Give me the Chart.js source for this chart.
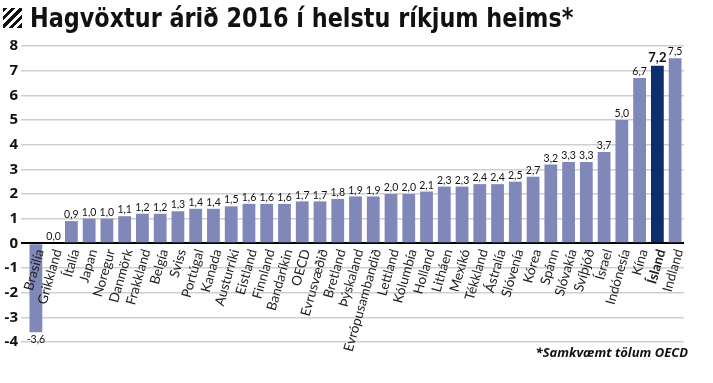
<!DOCTYPE html>
<html><head><meta charset="utf-8">
<script src="https://cdn.jsdelivr.net/npm/chart.js@4/dist/chart.umd.min.js"></script>
<style>
html,body{margin:0;padding:0;background:#fff;width:713px;height:383px;overflow:hidden}
#wrap{position:relative;width:713px;height:383px}
#title{position:absolute;left:30px;top:2px;font-family:"Liberation Sans Narrow","DejaVu Sans Condensed",sans-serif;font-weight:bold;font-size:27px;color:#111;white-space:nowrap;line-height:32px;transform:scaleX(0.92);transform-origin:0 0}
#icon{position:absolute;left:3px;top:8px;width:19px;height:20px;background:repeating-linear-gradient(135deg,#111 0 3px,#fff 3px 6px)}
#note{position:absolute;right:25px;top:343px;font-family:"Open Sans",sans-serif;font-weight:bold;font-style:italic;font-size:13px;color:#111}
canvas{position:absolute;left:0;top:0}
</style></head>
<body><div id="wrap">
<canvas id="c" width="713" height="383"></canvas>
<div id="icon"></div>
<div id="title">Hagvöxtur árið 2016 í helstu ríkjum heims*</div>
<div id="note">*Samkvæmt tölum OECD</div>
</div>
<script>
const countries = ["Brasilía","Grikkland","Ítalía","Japan","Noregur","Danmörk","Frakkland","Belgía","Sviss","Portúgal","Kanada","Austurríki","Eistland","Finnland","Bandaríkin","OECD","Evrusvæðið","Bretland","Þýskaland","Evrópusambandið","Lettland","Kólumbía","Holland","Litháen","Mexíkó","Tékkland","Ástralía","Slóvenía","Kórea","Spánn","Slóvakía","Svíþjóð","Ísrael","Indónesía","Kína","Ísland","Indland"];
const growth = [-3.6,0.0,0.9,1.0,1.0,1.1,1.2,1.2,1.3,1.4,1.4,1.5,1.6,1.6,1.6,1.7,1.7,1.8,1.9,1.9,2.0,2.0,2.1,2.3,2.3,2.4,2.4,2.5,2.7,3.2,3.3,3.3,3.7,5.0,6.7,7.2,7.5];
const yTicks = [-4,-3,-2,-1,0,1,2,3,4,5,6,7,8];
const highlight = "Ísland";

const barColor = "#7f88b9";
const hiColor = "#0c2d6e";

const valueLabels = {
  id: 'valueLabels',
  afterDatasetsDraw(chart) {
    const ctx = chart.ctx;
    const meta = chart.getDatasetMeta(0);
    ctx.save();
    ctx.textAlign = 'center';
    meta.data.forEach((bar, i) => {
      const v = growth[i];
      const hi = countries[i] === highlight;
      ctx.font = hi ? 'bold 13px Lato, sans-serif' : '10.5px Lato, sans-serif';
      ctx.fillStyle = '#111';
      const txt = v.toFixed(1).replace('.', ',');
      if (v >= 0) { ctx.textBaseline = 'bottom'; ctx.fillText(txt, bar.x, bar.y - 1); }
      else { ctx.textBaseline = 'top'; ctx.fillText(txt, bar.x, bar.y + 2); }
    });
    ctx.restore();
  }
};

new Chart(document.getElementById('c'), {
  type: 'bar',
  data: {
    labels: countries,
    datasets: [{
      data: growth,
      backgroundColor: countries.map(c => c === highlight ? hiColor : barColor),
      borderWidth: 0,
      categoryPercentage: 1,
      barPercentage: 0.72
    }]
  },
  options: {
    responsive: false,
    animation: false,
    layout: { padding: { top: 46, right: 29, bottom: 41, left: 0 } },
    plugins: { legend: { display: false }, tooltip: { enabled: false }, title: { display: false } },
    scales: {
      x: {
        position: { y: 0 },
        grid: { display: false },
        border: { display: false },
        ticks: {
          z: 1,
          autoSkip: false,
          minRotation: 74,
          maxRotation: 74,
          padding: -4,
          labelOffset: 4,
          color: '#222',
          font: (c) => ({ family: 'Lato, sans-serif', size: 13.5, weight: (c.tick && c.tick.label === highlight) ? 'bold' : 'normal' })
        }
      },
      y: {
        min: -4, max: 8,
        afterBuildTicks: (s) => { s.ticks = yTicks.map(v => ({ value: v })); },
        afterFit: (s) => { s.width = 27; },
        border: { display: false },
        grid: {
          color: (c) => c.tick && c.tick.value === 0 ? '#000' : '#cfcfcf',
          lineWidth: (c) => c.tick && c.tick.value === 0 ? 2 : 1.5,
          tickLength: 6
        },
        ticks: {
          padding: 3,
          color: '#111',
          font: { family: '"Open Sans", sans-serif', size: 15, weight: 'bold' }
        }
      }
    }
  },
  plugins: [valueLabels]
});
</script>
</body></html>
